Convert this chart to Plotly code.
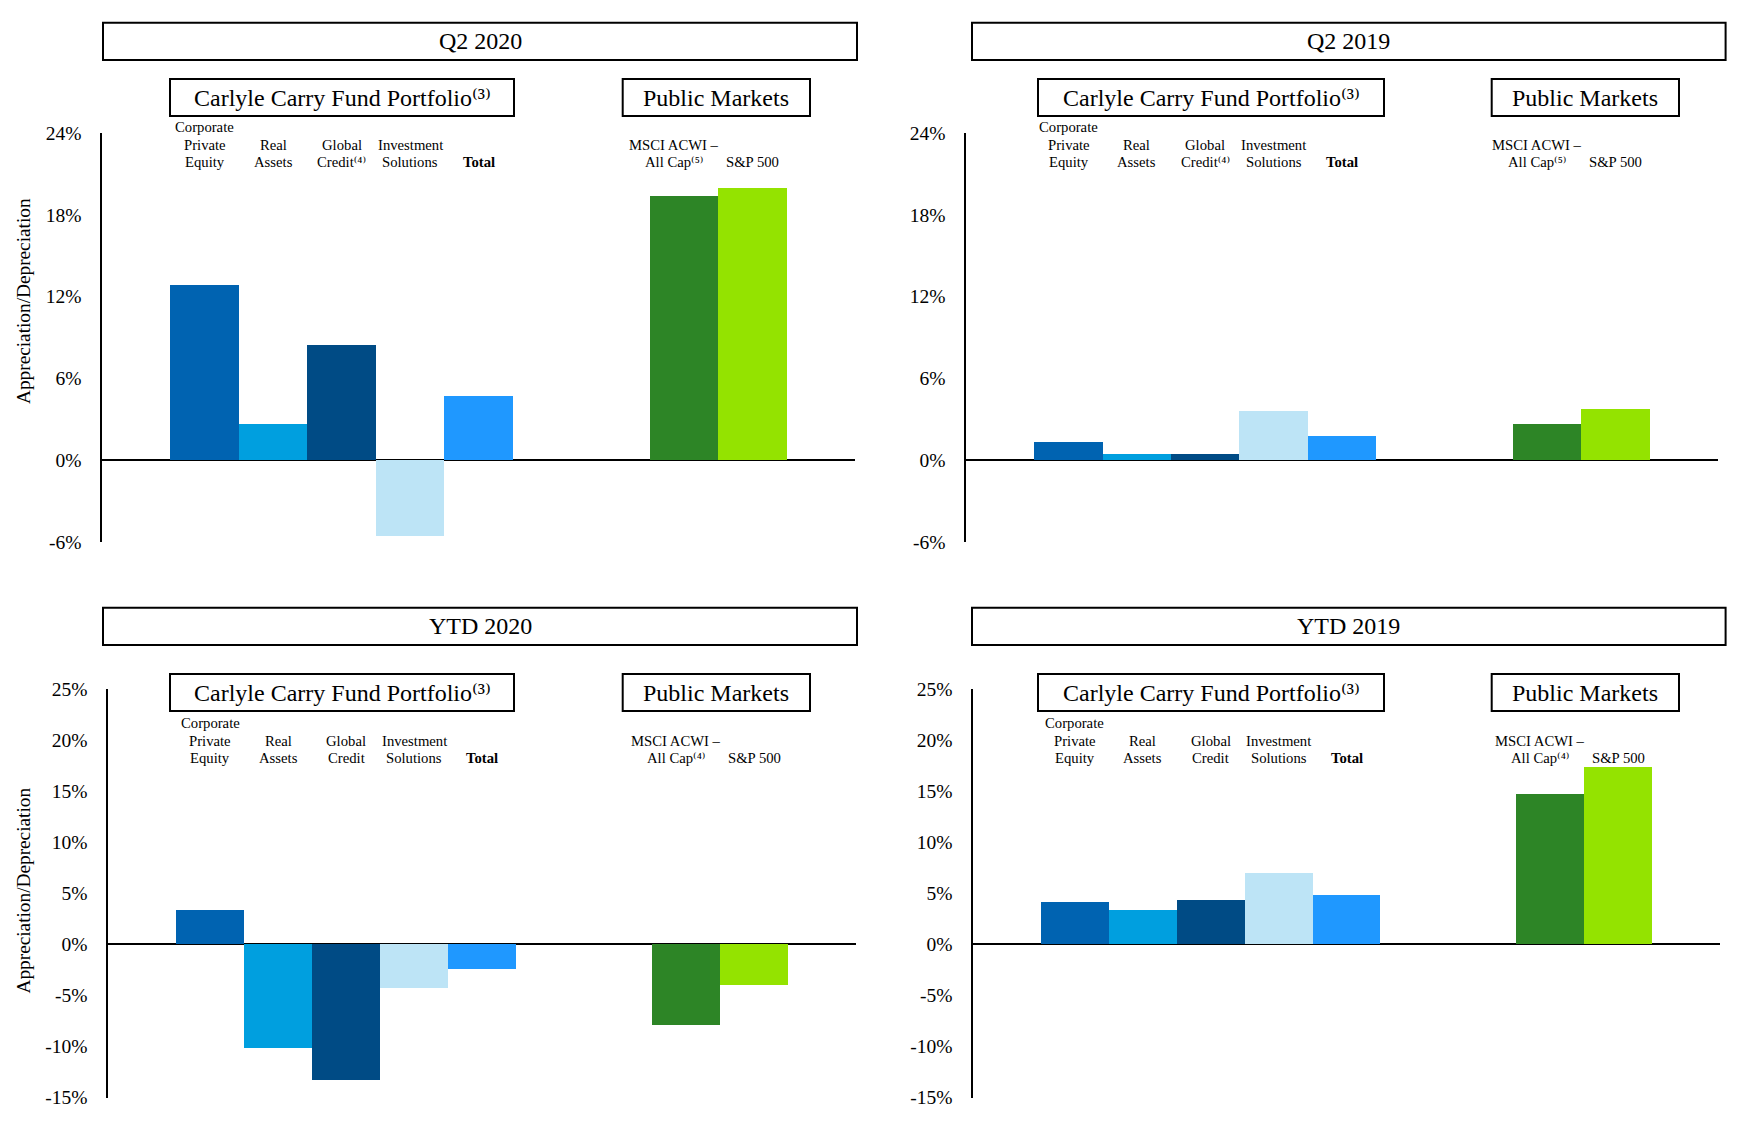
import plotly.graph_objects as go

W, H = 1746, 1122
FONT = "Liberation Serif, Times New Roman, DejaVu Serif, serif"

# ---------------- data ----------------
categories = ["Corporate Private Equity", "Real Assets", "Global Credit",
              "Investment Solutions", "Total", "MSCI ACWI – All Cap", "S&P 500"]
colors = ["#0063B1", "#009FDF", "#004B85", "#BDE4F6", "#1F98FF", "#2D8526", "#94E300"]

q2_2020 = [12.85, 2.65, 8.45, -5.6, 4.7, 19.4, 20.0]
q2_2019 = [1.3, 0.45, 0.45, 3.6, 1.75, 2.65, 3.75]
ytd_2020 = [3.35, -10.15, -13.25, -4.3, -2.4, -7.9, -4.0]
ytd_2019 = [4.1, 3.35, 4.3, 6.95, 4.8, 14.75, 17.4]

q_tickvals = [-6, 0, 6, 12, 18, 24]
q_ticktext = ["-6%", "0%", "6%", "12%", "18%", "24%"]
ytd_tickvals = [-15, -10, -5, 0, 5, 10, 15, 20, 25]
ytd_ticktext = ["-15%", "-10%", "-5%", "0%", "5%", "10%", "15%", "20%", "25%"]

labels_q = [["Corporate", "Private", "Equity"], ["Real", "Assets"],
            ["Global", "Credit⁽⁴⁾"], ["Investment", "Solutions"],
            ["<b>Total</b>"], ["MSCI ACWI –", "All Cap⁽⁵⁾"], ["S&P 500"]]
labels_ytd = [["Corporate", "Private", "Equity"], ["Real", "Assets"],
              ["Global", "Credit"], ["Investment", "Solutions"],
              ["<b>Total</b>"], ["MSCI ACWI –", "All Cap⁽⁴⁾"], ["S&P 500"]]

# category slots incl. two blank spacers between portfolio and public markets
slots = categories[:5] + [" ", "  "] + categories[5:]


def fx(p):
    return p / W


def fy(p):
    return 1 - p / H


panels = [
    dict(title="Q2 2020", vals=q2_2020, xd=(102, 855), yd=(133, 541.75), yr=(-6, 24),
         tv=q_tickvals, tt=q_ticktext, labels=labels_q, tbox=(103, 857, 22.7, 60),
         cbox=(170, 514, 79, 116), pbox=(622.7, 810, 79, 116), lab_y=162, ytitle=301),
    dict(title="Q2 2019", vals=q2_2019, xd=(966, 1718), yd=(133, 541.75), yr=(-6, 24),
         tv=q_tickvals, tt=q_ticktext, labels=labels_q, tbox=(972, 1725.6, 22.7, 60),
         cbox=(1038, 1384, 79, 116), pbox=(1491.7, 1679, 79, 116), lab_y=162, ytitle=None),
    dict(title="YTD 2020", vals=ytd_2020, xd=(108, 856), yd=(689, 1097.5), yr=(-15, 25),
         tv=ytd_tickvals, tt=ytd_ticktext, labels=labels_ytd, tbox=(103, 857, 607.7, 645),
         cbox=(170, 514, 674, 711), pbox=(622.7, 810, 674, 711), lab_y=758, ytitle=890.5),
    dict(title="YTD 2019", vals=ytd_2019, xd=(973, 1720), yd=(689, 1097.5), yr=(-15, 25),
         tv=ytd_tickvals, tt=ytd_ticktext, labels=labels_ytd, tbox=(972, 1725.6, 607.7, 645),
         cbox=(1038, 1384, 674, 711), pbox=(1491.7, 1679, 674, 711), lab_y=758, ytitle=None),
]

fig = go.Figure()
layout = dict(width=W, height=H, margin=dict(l=0, r=0, t=0, b=0, autoexpand=False),
              paper_bgcolor="white", plot_bgcolor="white", showlegend=False,
              bargap=0, font=dict(family=FONT, color="black"))
shapes, annotations = [], []

for i, p in enumerate(panels, start=1):
    sx = "" if i == 1 else str(i)
    fig.add_trace(go.Bar(x=categories, y=p["vals"], marker=dict(color=colors, line=dict(width=0)),
                         width=1, xaxis="x" + sx, yaxis="y" + sx, hoverinfo="skip"))
    layout["xaxis" + sx] = dict(domain=[fx(p["xd"][0]), fx(p["xd"][1])], anchor="y" + sx,
                                type="category", categoryorder="array", categoryarray=slots,
                                range=[-1.5, 9.5], showticklabels=False, showgrid=False,
                                zeroline=False, showline=False, ticks="", automargin=False)
    layout["yaxis" + sx] = dict(domain=[fy(p["yd"][1]), fy(p["yd"][0])], anchor="x" + sx,
                                range=list(p["yr"]), tickvals=p["tv"], ticktext=p["tt"],
                                showline=True, linecolor="black", linewidth=2.5,
                                showgrid=False, zeroline=True, zerolinecolor="black",
                                zerolinewidth=2, ticks="", ticklabelstandoff=14, automargin=False,
                                tickfont=dict(size=19.5, family=FONT, color="black"))
    # boxes
    for (x0, x1, y0, y1), txt, size in [(p["tbox"], p["title"], 24),
                                         (p["cbox"], "Carlyle Carry Fund Portfolio⁽³⁾", 24),
                                         (p["pbox"], "Public Markets", 24)]:
        shapes.append(dict(type="rect", xref="paper", yref="paper", x0=fx(x0), x1=fx(x1),
                           y0=fy(y1), y1=fy(y0), line=dict(color="black", width=2),
                           fillcolor="rgba(0,0,0,0)"))
        annotations.append(dict(xref="paper", yref="paper", x=fx((x0 + x1) / 2),
                                y=fy((y0 + y1) / 2), text=txt, showarrow=False,
                                xanchor="center", yanchor="middle",
                                font=dict(size=size, family=FONT, color="black")))
    # category labels
    for k, lines in enumerate(p["labels"]):
        for j, line in enumerate(reversed(lines)):
            annotations.append(dict(xref="x" + sx, yref="paper", x=categories[k],
                                    y=fy(p["lab_y"] - j * 17.3), text=line, showarrow=False,
                                    xanchor="center", yanchor="middle",
                                    xshift=-10 if k == 5 else 0,
                                    font=dict(size=14.7, family=FONT, color="black")))
    if p["ytitle"] is not None:
        annotations.append(dict(xref="paper", yref="paper", x=fx(23), y=fy(p["ytitle"]),
                                text="Appreciation/Depreciation", textangle=-90,
                                showarrow=False, xanchor="center", yanchor="middle",
                                font=dict(size=19.3, family=FONT, color="black")))

layout["shapes"] = shapes
layout["annotations"] = annotations
fig.update_layout(**layout)

fig.write_html("out.html", config={"displayModeBar": False, "staticPlot": True},
               post_script="document.body.style.margin='0';document.body.style.overflow='hidden';")
